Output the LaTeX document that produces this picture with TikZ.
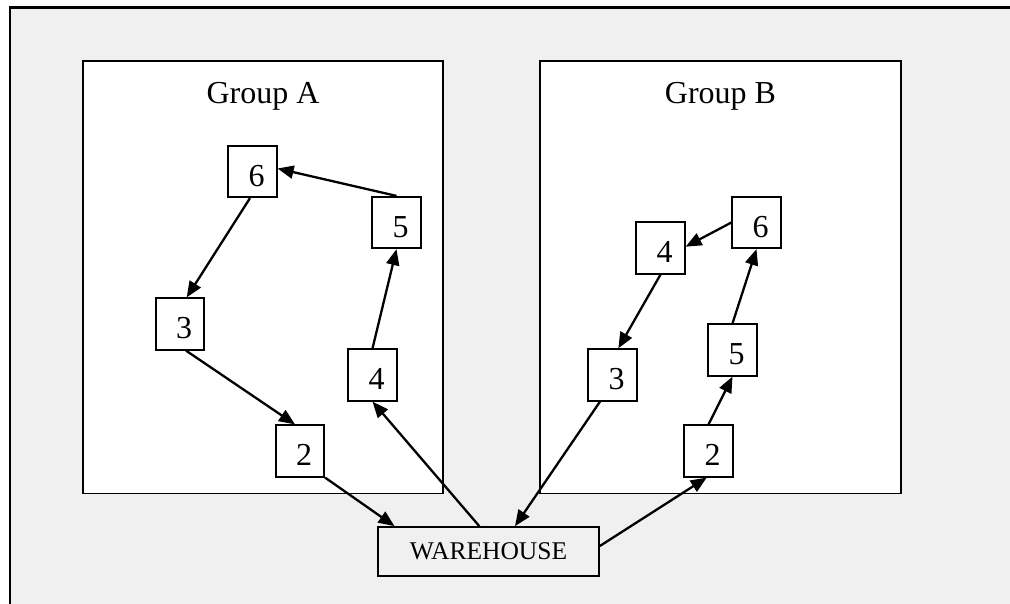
\documentclass[tikz,border=0pt]{standalone}
\usepackage{fontspec}
\setmainfont{Liberation Serif}
\usetikzlibrary{arrows.meta,calc}
\definecolor{bggray}{HTML}{F0F0F0}
\tikzset{
  numbox/.style={draw=black, line width=1.7pt, fill=white, minimum width=48.5pt, minimum height=51.5pt,
    inner sep=0pt, text height=29.7pt, text depth=0pt, font=\fontsize{32}{38}\selectfont},
  whbox/.style={draw=black, line width=1.7pt, fill=bggray, minimum width=221pt, minimum height=49pt,
    inner sep=0pt, font=\fontsize{25.5}{30}\selectfont},
  grouplabel/.style={anchor=base, inner sep=0pt, font=\fontsize{32}{38}\selectfont},
  groupbox/.style={draw=black, line width=1.8pt, fill=white},
  edge/.style={draw=black, line width=2.3pt, -{Triangle[length=16pt,width=13pt]}}
}
\newcommand{\dg}[1]{\hspace*{8pt}#1}
\begin{document}
\begin{tikzpicture}[x=1pt,y=-1pt]
\useasboundingbox (0,0) rectangle (1010,603);
\fill[white] (0,0) rectangle (1010,603);
\draw[fill=bggray, line width=2.3pt] (10.3,7.5) rectangle (1020,615);
% groups
\draw[groupbox] (83.3,61) rectangle (443.3,493.5);
\draw[groupbox] (540,61) rectangle (900.7,493.5);
\node[grouplabel] (labA) at (263,103.3) {Group A};
\node[grouplabel] (labB) at (720.5,103.3) {Group B};
% nodes group A
\node[numbox] (a6) at (252.5,171.5) {\dg{6}};
\node[numbox] (a5) at (396.5,222.5) {\dg{5}};
\node[numbox] (a3) at (180,324) {\dg{3}};
\node[numbox] (a4) at (372.5,375) {\dg{4}};
\node[numbox] (a2) at (300,451) {\dg{2}};
% nodes group B
\node[numbox] (b6) at (756.5,222.5) {\dg{6}};
\node[numbox] (b4) at (660.5,248) {\dg{4}};
\node[numbox] (b5) at (732.5,350) {\dg{5}};
\node[numbox] (b3) at (612.5,375) {\dg{3}};
\node[numbox] (b2) at (708.5,451) {\dg{2}};
% warehouse
\node[whbox] (w) at (488.5,551.5) {WAREHOUSE};
% edges group A
\draw[edge] (a5.north) -- ($(a6.east)+(0,-3)$);
\draw[edge] ($(a6.south)+(-2.5,0)$) -- ($(a3.north)+(6.7,0)$);
\draw[edge] ($(a3.south)+(6,0)$) -- ($(a2.north)+(-5,0)$);
\draw[edge] (a2.south east) -- ($(w.north)+(-94,0)$);
\draw[edge] ($(w.north)+(-9.2,0)$) -- (a4.south);
\draw[edge] (a4.north) -- (a5.south);
% edges group B
\draw[edge] ($(w.east)+(0,-5.5)$) -- ($(b2.south)+(-1.8,0)$);
\draw[edge] (b2.north) -- (b5.south);
\draw[edge] (b5.north) -- (b6.south);
\draw[edge] (b6.west) -- ($(b4.east)+(0,-1.3)$);
\draw[edge] (b4.south) -- ($(b3.north)+(5.8,0)$);
\draw[edge] ($(b3.south)+(-12.5,0)$) -- ($(w.north)+(26.5,0)$);
\end{tikzpicture}
\end{document}
